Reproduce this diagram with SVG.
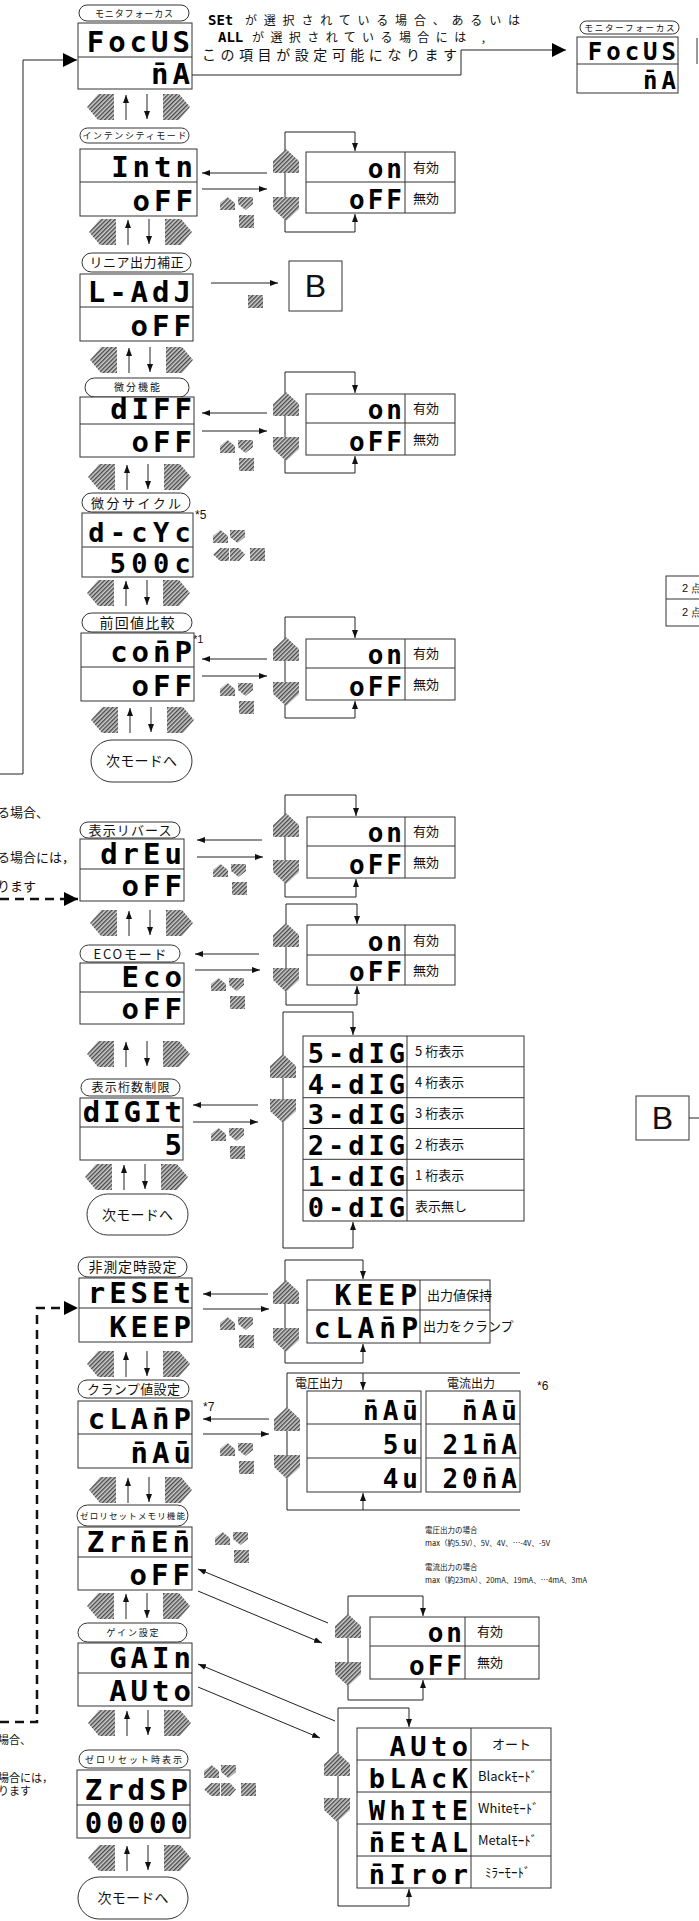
<svg xmlns="http://www.w3.org/2000/svg" xmlns:xlink="http://www.w3.org/1999/xlink" width="699" height="1921" viewBox="0 0 699 1921">
<style>
.pill,.box{fill:#fff;stroke:#333;stroke-width:1}
.dv{stroke:#333;stroke-width:1}
.ln{fill:none;stroke:#222;stroke-width:1}
.dash{fill:none;stroke:#111;stroke-width:2.5;stroke-dasharray:9 6}
.seg{font-family:"DejaVu Sans Mono",monospace;font-weight:bold;text-anchor:end;fill:#000}
.segs{font-family:"DejaVu Sans Mono",monospace;font-weight:bold;fill:#000}
.m{font-size:29px;letter-spacing:4px}
.m2{font-size:27px;letter-spacing:5.3px}
.so{font-size:26px;letter-spacing:3px}
.sd{font-size:27px;letter-spacing:4px}
.sk{font-size:28px;letter-spacing:5px}
.sc{font-size:26px;letter-spacing:4px}
.sa{font-size:27px;letter-spacing:4.5px}
.st{font-size:24px;letter-spacing:4px}
.jp{font-family:"Noto Sans CJK JP",sans-serif;fill:#111}
.lbl{font-family:"Noto Sans CJK JP",sans-serif;text-anchor:middle;fill:#111}
.sm{font-family:"Liberation Sans",sans-serif;fill:#111}
.h{fill:url(#hp)}
</style>
<defs>
<pattern id="hp" width="3" height="3" patternUnits="userSpaceOnUse" patternTransform="rotate(45)"><rect width="3" height="3" fill="#cfcfcf"/><rect width="1.4" height="3" fill="#474747"/></pattern>
<marker id="ah" markerWidth="8" markerHeight="6" refX="8" refY="3" orient="auto" markerUnits="userSpaceOnUse"><path d="M0,0 L8,3 L0,6 z" fill="#111"/></marker>
<marker id="big" markerWidth="14" markerHeight="14" refX="14" refY="7" orient="auto" markerUnits="userSpaceOnUse"><path d="M0,0 L14,7 L0,14 z" fill="#000"/></marker>
<g id="nav">
<polygon class="h" points="0,13 11,0 27,0 27,26 11,26"/>
<polygon class="h" points="76,0 92,0 103,13 92,26 76,26"/>
<line class="ln" x1="39" y1="26" x2="39" y2="1" marker-end="url(#ah)"/>
<line class="ln" x1="60" y1="0" x2="60" y2="25" marker-end="url(#ah)"/>
</g>
<polygon id="bu" class="h" points="0,12 13,0 26,12 26,24 0,24"/>
<polygon id="bd" class="h" points="0,0 26,0 26,12 13,24 0,12"/>
<g id="ic3">
<polygon class="h" points="0,6 7.5,0 15,6 15,13 0,13"/>
<polygon class="h" points="18,0 33,0 33,7 25.5,13 18,7"/>
<rect class="h" x="19" y="18" width="15" height="13"/>
</g>
<g id="ic5">
<polygon class="h" points="0,6 7.5,0 15,6 15,13 0,13"/>
<polygon class="h" points="17,0 32,0 32,7 24.5,13 17,7"/>
<polygon class="h" points="0,24.5 7,18 16,18 16,31 7,31"/>
<polygon class="h" points="17,18 26,18 32,24.5 26,31 17,31"/>
<rect class="h" x="37" y="18" width="15" height="13"/>
</g>
</defs>
<rect width="699" height="1921" fill="#fff"/>

<g id="connectors">
<polyline class="ln" points="0,774 23,774 23,60 77,60" marker-end="url(#big)"/>
<polyline class="ln" points="192,75 461,75 461,50 566,50" marker-end="url(#big)"/>
<polyline class="dash" points="0,899 78,899" marker-end="url(#big)"/>
<polyline class="dash" points="0,1722 37,1722 37,1308 78,1308" marker-end="url(#big)"/>
<use xlink:href="#nav" x="87" y="94"/>
<use xlink:href="#nav" x="89" y="219"/>
<use xlink:href="#nav" x="90" y="347"/>
<use xlink:href="#nav" x="88" y="464"/>
<use xlink:href="#nav" x="87" y="580"/>
<use xlink:href="#nav" x="91" y="707"/>
<use xlink:href="#nav" x="90" y="910"/>
<use xlink:href="#nav" x="87" y="1041"/>
<use xlink:href="#nav" x="85" y="1164"/>
<use xlink:href="#nav" x="87" y="1351"/>
<use xlink:href="#nav" x="89" y="1477"/>
<use xlink:href="#nav" x="87" y="1593"/>
<use xlink:href="#nav" x="88" y="1710"/>
<use xlink:href="#nav" x="88" y="1845"/>
<line class="ln" x1="267" y1="173" x2="202" y2="173" marker-end="url(#ah)"/>
<line class="ln" x1="202" y1="189" x2="267" y2="189" marker-end="url(#ah)"/>
<line class="ln" x1="285" y1="132" x2="285" y2="232"/>
<polyline class="ln" points="285,132 355,132 355,151" marker-end="url(#ah)"/>
<polyline class="ln" points="285,232 355,232 355,214" marker-end="url(#ah)"/>
<use xlink:href="#bu" x="273" y="149"/>
<use xlink:href="#bd" x="273" y="197"/>
<use xlink:href="#ic3" x="220" y="197"/>
<line class="ln" x1="211" y1="283" x2="278" y2="283" marker-end="url(#ah)"/>
<rect class="h" x="248" y="295" width="15" height="13"/>
<line class="ln" x1="267" y1="413" x2="202" y2="413" marker-end="url(#ah)"/>
<line class="ln" x1="202" y1="431" x2="267" y2="431" marker-end="url(#ah)"/>
<line class="ln" x1="285" y1="372" x2="285" y2="473"/>
<polyline class="ln" points="285,372 355,372 355,393" marker-end="url(#ah)"/>
<polyline class="ln" points="285,473 355,473 355,456" marker-end="url(#ah)"/>
<use xlink:href="#bu" x="273" y="392"/>
<use xlink:href="#bd" x="273" y="437"/>
<use xlink:href="#ic3" x="220" y="440"/>
<use xlink:href="#ic5" x="213" y="530"/>
<line class="ln" x1="267" y1="659" x2="202" y2="659" marker-end="url(#ah)"/>
<line class="ln" x1="202" y1="676" x2="267" y2="676" marker-end="url(#ah)"/>
<line class="ln" x1="285" y1="617" x2="285" y2="718"/>
<polyline class="ln" points="285,617 355,617 355,638" marker-end="url(#ah)"/>
<polyline class="ln" points="285,718 355,718 355,701" marker-end="url(#ah)"/>
<use xlink:href="#bu" x="273" y="637"/>
<use xlink:href="#bd" x="273" y="682"/>
<use xlink:href="#ic3" x="220" y="683"/>
<line class="ln" x1="262" y1="840" x2="197" y2="840" marker-end="url(#ah)"/>
<line class="ln" x1="197" y1="857" x2="263" y2="857" marker-end="url(#ah)"/>
<line class="ln" x1="285" y1="795" x2="285" y2="897"/>
<polyline class="ln" points="285,795 356,795 356,816" marker-end="url(#ah)"/>
<polyline class="ln" points="285,897 356,897 356,879" marker-end="url(#ah)"/>
<use xlink:href="#bu" x="273" y="813"/>
<use xlink:href="#bd" x="273" y="860"/>
<use xlink:href="#ic3" x="213" y="864"/>
<line class="ln" x1="259" y1="954" x2="195" y2="954" marker-end="url(#ah)"/>
<line class="ln" x1="195" y1="970" x2="260" y2="970" marker-end="url(#ah)"/>
<line class="ln" x1="286" y1="904" x2="286" y2="1005"/>
<polyline class="ln" points="286,904 357,904 357,924" marker-end="url(#ah)"/>
<polyline class="ln" points="286,1005 357,1005 357,986" marker-end="url(#ah)"/>
<use xlink:href="#bu" x="273" y="923"/>
<use xlink:href="#bd" x="273" y="968"/>
<use xlink:href="#ic3" x="211" y="978"/>
<line class="ln" x1="258" y1="1105" x2="193" y2="1105" marker-end="url(#ah)"/>
<line class="ln" x1="193" y1="1122" x2="258" y2="1122" marker-end="url(#ah)"/>
<line class="ln" x1="283" y1="1012" x2="283" y2="1248"/>
<polyline class="ln" points="283,1012 353,1012 353,1035" marker-end="url(#ah)"/>
<polyline class="ln" points="283,1248 353,1248 353,1222" marker-end="url(#ah)"/>
<use xlink:href="#bu" x="270" y="1054"/>
<use xlink:href="#bd" x="270" y="1099"/>
<use xlink:href="#ic3" x="211" y="1128"/>
<line class="ln" x1="268" y1="1294" x2="203" y2="1294" marker-end="url(#ah)"/>
<line class="ln" x1="203" y1="1309" x2="269" y2="1309" marker-end="url(#ah)"/>
<line class="ln" x1="285" y1="1260" x2="285" y2="1363"/>
<polyline class="ln" points="285,1260 363,1260 363,1279" marker-end="url(#ah)"/>
<polyline class="ln" points="285,1363 363,1363 363,1344" marker-end="url(#ah)"/>
<use xlink:href="#bu" x="273" y="1280"/>
<use xlink:href="#bd" x="273" y="1328"/>
<use xlink:href="#ic3" x="220" y="1317"/>
<line class="ln" x1="269" y1="1419" x2="203" y2="1419" marker-end="url(#ah)"/>
<line class="ln" x1="203" y1="1434" x2="269" y2="1434" marker-end="url(#ah)"/>
<line class="ln" x1="287" y1="1373" x2="287" y2="1510"/>
<line class="ln" x1="287" y1="1373" x2="520" y2="1373"/>
<line class="ln" x1="363" y1="1373" x2="363" y2="1390" marker-end="url(#ah)"/>
<line class="ln" x1="287" y1="1510" x2="520" y2="1510"/>
<line class="ln" x1="363" y1="1510" x2="363" y2="1493" marker-end="url(#ah)"/>
<use xlink:href="#bu" x="274" y="1407"/>
<use xlink:href="#bd" x="274" y="1455"/>
<use xlink:href="#ic3" x="220" y="1443"/>
<use xlink:href="#ic3" x="215" y="1532"/>
<line class="ln" x1="328" y1="1623" x2="198" y2="1569" marker-end="url(#ah)"/>
<line class="ln" x1="198" y1="1591" x2="322" y2="1643" marker-end="url(#ah)"/>
<line class="ln" x1="348" y1="1596" x2="348" y2="1700"/>
<polyline class="ln" points="348,1596 423,1596 423,1616" marker-end="url(#ah)"/>
<polyline class="ln" points="348,1700 423,1700 423,1680" marker-end="url(#ah)"/>
<use xlink:href="#bu" x="335" y="1614"/>
<use xlink:href="#bd" x="335" y="1662"/>
<line class="ln" x1="335" y1="1721" x2="198" y2="1664" marker-end="url(#ah)"/>
<line class="ln" x1="198" y1="1687" x2="320" y2="1738" marker-end="url(#ah)"/>
<line class="ln" x1="338" y1="1708" x2="338" y2="1906"/>
<polyline class="ln" points="338,1708 409,1708 409,1727" marker-end="url(#ah)"/>
<polyline class="ln" points="338,1906 409,1906 409,1889" marker-end="url(#ah)"/>
<use xlink:href="#bu" x="324" y="1752"/>
<use xlink:href="#bd" x="324" y="1798"/>
<use xlink:href="#ic5" x="204" y="1765"/>
<line class="ln" x1="689" y1="1118" x2="699" y2="1118"/>
</g>

<g id="note-top">
<text class="segs" x="208" y="25" font-size="14">SEt</text>
<text class="jp" x="245" y="25" font-size="12" textLength="275">が選択されている場合、あるいは</text>
<text class="segs" x="218" y="42" font-size="14">ALL</text>
<text class="jp" x="252" y="42" font-size="12" textLength="233">が選択されている場合には ,</text>
<text class="jp" x="202" y="60" font-size="14" textLength="255">この項目が設定可能になります</text>
</g>
<g id="note-left1">
<text class="jp" x="-3" y="817" font-size="13">る場合、</text>
<text class="jp" x="-3" y="862" font-size="13">る場合には，</text>
<text class="jp" x="-3" y="891" font-size="13">ります</text>
</g>
<g id="note-left2">
<text class="jp" x="-2" y="1744" font-size="11">場合、</text>
<text class="jp" x="-2" y="1782" font-size="11">場合には，</text>
<text class="jp" x="-2" y="1795" font-size="11">ります</text>
</g>

<g id="n-focus">
<rect class="pill" x="79" y="5" width="110" height="16" rx="8"/>
<text class="lbl" x="134" y="16.5" font-size="9" textLength="78">モニタフォーカス</text>
<rect class="box" x="78" y="23" width="114" height="66"/>
<line class="dv" x1="78" y1="57" x2="192" y2="57"/>
<text class="seg m" x="194" y="52">FocUS</text>
<text class="seg m" x="194" y="84">n&#772;A</text>
</g>
<g id="n-focus2">
<rect class="pill" x="580" y="21" width="99" height="13" rx="6.5"/>
<text class="lbl" x="629.5" y="30.5" font-size="8.5" textLength="90">モニターフォーカス</text>
<rect class="box" x="577" y="37" width="101" height="56"/>
<line class="dv" x1="577" y1="64" x2="678" y2="64"/>
<text class="seg st" x="680" y="60">FocUS</text>
<text class="seg st" x="680" y="89">n&#772;A</text>
<line class="dv" x1="697" y1="38" x2="697" y2="64"/>
</g>
<g id="n-intn">
<rect class="pill" x="80" y="128" width="109" height="15" rx="7.5"/>
<text class="lbl" x="134.5" y="139" font-size="9" textLength="104">インテンシティモード</text>
<rect class="box" x="80" y="149" width="117" height="67"/>
<line class="dv" x1="80" y1="182" x2="197" y2="182"/>
<text class="seg m" x="197" y="177">Intn</text>
<text class="seg m" x="197" y="211">oFF</text>
</g>
<g id="o-intn">
<rect class="box" x="306" y="152" width="149" height="61"/>
<line class="dv" x1="306" y1="182" x2="455" y2="182"/>
<line class="dv" x1="405" y1="152" x2="405" y2="213"/>
<text class="seg so" x="405" y="178">on</text>
<text class="seg so" x="405" y="209">oFF</text>
<text class="jp" x="413" y="172" font-size="13">有効</text>
<text class="jp" x="413" y="203" font-size="13">無効</text>
</g>
<g id="n-ladj">
<rect class="pill" x="82" y="253" width="109" height="19" rx="9.5"/>
<text class="lbl" x="136.5" y="267" font-size="13" textLength="94">リニア出力補正</text>
<rect class="box" x="80" y="274" width="113" height="67"/>
<line class="dv" x1="80" y1="307" x2="193" y2="307"/>
<text class="seg m" x="195" y="302">L-AdJ</text>
<text class="seg m" x="195" y="336">oFF</text>
</g>
<g id="n-b1">
<rect class="box" x="289" y="261" width="53" height="50"/>
<text class="sm" x="315.5" y="297" font-size="32" text-anchor="middle">B</text>
</g>
<g id="n-diff">
<rect class="pill" x="85" y="378" width="104" height="19" rx="9.5"/>
<text class="lbl" x="137" y="391" font-size="10" textLength="46">微分機能</text>
<rect class="box" x="80" y="397" width="114" height="60"/>
<line class="dv" x1="80" y1="424" x2="194" y2="424"/>
<text class="seg m" x="196" y="419">dIFF</text>
<text class="seg m" x="196" y="452">oFF</text>
</g>
<g id="o-diff">
<rect class="box" x="306" y="394" width="149" height="61"/>
<line class="dv" x1="306" y1="423" x2="455" y2="423"/>
<line class="dv" x1="405" y1="394" x2="405" y2="455"/>
<text class="seg so" x="405" y="419">on</text>
<text class="seg so" x="405" y="451">oFF</text>
<text class="jp" x="413" y="413" font-size="13">有効</text>
<text class="jp" x="413" y="444" font-size="13">無効</text>
</g>
<g id="n-dcyc">
<rect class="pill" x="82" y="493" width="108" height="19" rx="9.5"/>
<text class="lbl" x="136" y="507.5" font-size="13" textLength="90">微分サイクル</text>
<text class="sm" x="195" y="519" font-size="12">*5</text>
<rect class="box" x="82" y="513" width="111" height="64"/>
<line class="dv" x1="82" y1="547" x2="193" y2="547"/>
<text class="seg m2" x="196" y="542">d-cYc</text>
<text class="seg m2" x="196" y="573">500c</text>
</g>
<g id="n-comp">
<rect class="pill" x="82" y="613" width="110" height="19" rx="9.5"/>
<text class="lbl" x="137" y="628" font-size="14" textLength="75">前回値比較</text>
<text class="sm" x="193" y="643" font-size="11">*1</text>
<rect class="box" x="81" y="633" width="113" height="68"/>
<line class="dv" x1="81" y1="667" x2="194" y2="667"/>
<text class="seg m" x="196" y="662">con&#772;P</text>
<text class="seg m" x="196" y="696">oFF</text>
</g>
<g id="o-comp">
<rect class="box" x="306" y="639" width="149" height="61"/>
<line class="dv" x1="306" y1="668" x2="455" y2="668"/>
<line class="dv" x1="405" y1="639" x2="405" y2="700"/>
<text class="seg so" x="405" y="664">on</text>
<text class="seg so" x="405" y="696">oFF</text>
<text class="jp" x="413" y="658" font-size="13">有効</text>
<text class="jp" x="413" y="689" font-size="13">無効</text>
</g>
<g id="n-next1">
<rect class="pill" x="91" y="740" width="101" height="42" rx="21"/>
<text class="lbl" x="141.5" y="766" font-size="14" textLength="71">次モードへ</text>
</g>
<g id="n-dreu">
<rect class="pill" x="80" y="822" width="100" height="16" rx="8"/>
<text class="lbl" x="130" y="835" font-size="13" textLength="83">表示リバース</text>
<rect class="box" x="80" y="839" width="104" height="62"/>
<line class="dv" x1="80" y1="869" x2="184" y2="869"/>
<text class="seg m" x="186" y="864">drEu</text>
<text class="seg m" x="186" y="896">oFF</text>
</g>
<g id="o-dreu">
<rect class="box" x="307" y="817" width="148" height="61"/>
<line class="dv" x1="307" y1="846" x2="455" y2="846"/>
<line class="dv" x1="405" y1="817" x2="405" y2="878"/>
<text class="seg so" x="405" y="842">on</text>
<text class="seg so" x="405" y="874">oFF</text>
<text class="jp" x="413" y="836" font-size="13">有効</text>
<text class="jp" x="413" y="867" font-size="13">無効</text>
</g>
<g id="n-eco">
<rect class="pill" x="80" y="945" width="100" height="17" rx="8.5"/>
<text class="lbl" x="130" y="958.5" font-size="13" textLength="73">ECOモード</text>
<rect class="box" x="80" y="963" width="104" height="61"/>
<line class="dv" x1="80" y1="992" x2="184" y2="992"/>
<text class="seg m" x="186" y="987">Eco</text>
<text class="seg m" x="186" y="1019">oFF</text>
</g>
<g id="o-eco">
<rect class="box" x="307" y="925" width="148" height="60"/>
<line class="dv" x1="307" y1="955" x2="455" y2="955"/>
<line class="dv" x1="405" y1="925" x2="405" y2="985"/>
<text class="seg so" x="405" y="951">on</text>
<text class="seg so" x="405" y="981">oFF</text>
<text class="jp" x="413" y="945" font-size="13">有効</text>
<text class="jp" x="413" y="975" font-size="13">無効</text>
</g>
<g id="n-digit">
<rect class="pill" x="81" y="1079" width="99" height="17" rx="8.5"/>
<text class="lbl" x="130.5" y="1092" font-size="12" textLength="78">表示桁数制限</text>
<rect class="box" x="80" y="1098" width="103" height="62"/>
<line class="dv" x1="80" y1="1127" x2="183" y2="1127"/>
<text class="seg m" x="185" y="1122" style="letter-spacing:3px">dIGIt</text>
<text class="seg m" x="186" y="1155">5</text>
</g>
<g id="o-digit">
<rect class="box" x="303" y="1036" width="221" height="185"/>
<line class="dv" x1="303" y1="1066.8" x2="524" y2="1066.8"/>
<line class="dv" x1="303" y1="1097.7" x2="524" y2="1097.7"/>
<line class="dv" x1="303" y1="1128.5" x2="524" y2="1128.5"/>
<line class="dv" x1="303" y1="1159.3" x2="524" y2="1159.3"/>
<line class="dv" x1="303" y1="1190.2" x2="524" y2="1190.2"/>
<line class="dv" x1="407" y1="1036" x2="407" y2="1221"/>
<text class="seg sd" x="409" y="1063">5-dIG</text>
<text class="seg sd" x="409" y="1094">4-dIG</text>
<text class="seg sd" x="409" y="1124">3-dIG</text>
<text class="seg sd" x="409" y="1155">2-dIG</text>
<text class="seg sd" x="409" y="1186">1-dIG</text>
<text class="seg sd" x="409" y="1217">0-dIG</text>
<text class="jp" x="415" y="1056" font-size="13">5 桁表示</text>
<text class="jp" x="415" y="1087" font-size="13">4 桁表示</text>
<text class="jp" x="415" y="1118" font-size="13">3 桁表示</text>
<text class="jp" x="415" y="1149" font-size="13">2 桁表示</text>
<text class="jp" x="415" y="1180" font-size="13">1 桁表示</text>
<text class="jp" x="415" y="1211" font-size="13">表示無し</text>
</g>
<g id="n-b2">
<rect class="box" x="636" y="1096" width="53" height="44"/>
<text class="sm" x="662.5" y="1129" font-size="32" text-anchor="middle">B</text>
</g>
<g id="n-2pt">
<rect class="box" x="666" y="576" width="45" height="50"/>
<line class="dv" x1="666" y1="599" x2="699" y2="599"/>
<text class="sm" x="682" y="592" font-size="11">2 点</text>
<text class="sm" x="682" y="616" font-size="11">2 点</text>
</g>
<g id="n-next2">
<rect class="pill" x="87" y="1194" width="101" height="41" rx="20.5"/>
<text class="lbl" x="137.5" y="1219.5" font-size="14" textLength="71">次モードへ</text>
</g>
<g id="n-reset">
<rect class="pill" x="78" y="1257" width="109" height="20" rx="10"/>
<text class="lbl" x="132.5" y="1272" font-size="14" textLength="88">非測定時設定</text>
<rect class="box" x="79" y="1278" width="113" height="64"/>
<line class="dv" x1="79" y1="1308" x2="192" y2="1308"/>
<text class="seg m" x="195" y="1303">rESEt</text>
<text class="seg m" x="195" y="1337">KEEP</text>
</g>
<g id="o-reset">
<rect class="box" x="307" y="1280" width="183" height="63"/>
<line class="dv" x1="307" y1="1310" x2="490" y2="1310"/>
<line class="dv" x1="420" y1="1280" x2="420" y2="1343"/>
<text class="seg sk" x="422" y="1305">KEEP</text>
<text class="seg sk" x="423" y="1338">cLAn&#772;P</text>
<text class="jp" x="427" y="1300" font-size="13">出力値保持</text>
<text class="jp" x="423" y="1331" font-size="13">出力をクランプ</text>
</g>
<g id="n-clamp">
<rect class="pill" x="78" y="1380" width="111" height="18" rx="9"/>
<text class="lbl" x="133.5" y="1394" font-size="13" textLength="93">クランプ値設定</text>
<text class="sm" x="203" y="1411" font-size="12">*7</text>
<rect class="box" x="78" y="1401" width="114" height="67"/>
<line class="dv" x1="78" y1="1434" x2="192" y2="1434"/>
<text class="seg m" x="195" y="1429">cLAn&#772;P</text>
<text class="seg m" x="195" y="1463">n&#772;Au&#772;</text>
</g>
<g id="o-clamp">
<text class="jp" x="295" y="1388" font-size="12">電圧出力</text>
<text class="jp" x="447" y="1388" font-size="12">電流出力</text>
<text class="sm" x="537" y="1390" font-size="12">*6</text>
<rect class="box" x="307" y="1391" width="114" height="101"/>
<line class="dv" x1="307" y1="1424" x2="421" y2="1424"/>
<line class="dv" x1="307" y1="1458" x2="421" y2="1458"/>
<text class="seg sc" x="422" y="1420">n&#772;Au&#772;</text>
<text class="seg sc" x="422" y="1454">5u</text>
<text class="seg sc" x="422" y="1488">4u</text>
<rect class="box" x="426" y="1391" width="94" height="101"/>
<line class="dv" x1="426" y1="1424" x2="520" y2="1424"/>
<line class="dv" x1="426" y1="1458" x2="520" y2="1458"/>
<text class="seg sc" x="521" y="1420">n&#772;Au&#772;</text>
<text class="seg sc" x="521" y="1454">21n&#772;A</text>
<text class="seg sc" x="521" y="1488">20n&#772;A</text>
</g>
<g id="note-clamp">
<text class="jp" x="425" y="1533" font-size="7.5">電圧出力の場合</text>
<text class="jp" x="425" y="1546" font-size="7.5">max（約5.5V）、5V、4V、…-4V、-5V</text>
<text class="jp" x="425" y="1570" font-size="7.5">電流出力の場合</text>
<text class="jp" x="425" y="1583" font-size="7.5">max（約23mA）、20mA、19mA、…4mA、3mA</text>
</g>
<g id="n-zrmem">
<rect class="pill" x="77" y="1505" width="111" height="21" rx="10.5"/>
<text class="lbl" x="132.5" y="1519" font-size="8.5" textLength="105">ゼロリセットメモリ機能</text>
<rect class="box" x="78" y="1527" width="114" height="63"/>
<line class="dv" x1="78" y1="1557" x2="192" y2="1557"/>
<text class="seg m" x="194" y="1552">Zrn&#772;En&#772;</text>
<text class="seg m" x="194" y="1585">oFF</text>
</g>
<g id="o-zg">
<rect class="box" x="370" y="1617" width="169" height="62"/>
<line class="dv" x1="370" y1="1646" x2="539" y2="1646"/>
<line class="dv" x1="465" y1="1617" x2="465" y2="1679"/>
<text class="seg so" x="465" y="1642">on</text>
<text class="seg so" x="465" y="1675">oFF</text>
<text class="jp" x="477" y="1636" font-size="13">有効</text>
<text class="jp" x="477" y="1667" font-size="13">無効</text>
</g>
<g id="n-gain">
<rect class="pill" x="78" y="1623" width="109" height="19" rx="9.5"/>
<text class="lbl" x="132.5" y="1636" font-size="9" textLength="52">ゲイン設定</text>
<rect class="box" x="78" y="1643" width="114" height="63"/>
<line class="dv" x1="78" y1="1673" x2="192" y2="1673"/>
<text class="seg m" x="195" y="1668">GAIn</text>
<text class="seg m" x="195" y="1701">AUto</text>
</g>
<g id="o-auto">
<rect class="box" x="357" y="1728" width="194" height="160"/>
<line class="dv" x1="357" y1="1760" x2="551" y2="1760"/>
<line class="dv" x1="357" y1="1792" x2="551" y2="1792"/>
<line class="dv" x1="357" y1="1824" x2="551" y2="1824"/>
<line class="dv" x1="357" y1="1856" x2="551" y2="1856"/>
<line class="dv" x1="471" y1="1728" x2="471" y2="1888"/>
<text class="seg sa" x="472.5" y="1756">AUto</text>
<text class="seg sa" x="472.5" y="1788">bLAcK</text>
<text class="seg sa" x="472.5" y="1820">WhItE</text>
<text class="seg sa" x="472.5" y="1852">n&#772;EtAL</text>
<text class="seg sa" x="472.5" y="1884">n&#772;Iror</text>
<text class="jp" x="492" y="1749" font-size="13">オート</text>
<text class="jp" x="478" y="1781" font-size="13">Blackﾓｰﾄﾞ</text>
<text class="jp" x="478" y="1813" font-size="13">Whiteﾓｰﾄﾞ</text>
<text class="jp" x="478" y="1845" font-size="13">Metalﾓｰﾄﾞ</text>
<text class="jp" x="485" y="1877" font-size="13">ﾐﾗｰﾓｰﾄﾞ</text>
</g>
<g id="n-zrdsp">
<rect class="pill" x="79" y="1750" width="109" height="18" rx="9"/>
<text class="lbl" x="133.5" y="1762.5" font-size="9" textLength="97">ゼロリセット時表示</text>
<rect class="box" x="77" y="1770" width="113" height="68"/>
<line class="dv" x1="77" y1="1805" x2="190" y2="1805"/>
<text class="seg m" x="192" y="1800">ZrdSP</text>
<text class="seg m" x="192" y="1833">00000</text>
</g>
<g id="n-next3">
<rect class="pill" x="78" y="1877" width="110" height="42" rx="21"/>
<text class="lbl" x="133" y="1903" font-size="14" textLength="71">次モードへ</text>
</g>
</svg>
